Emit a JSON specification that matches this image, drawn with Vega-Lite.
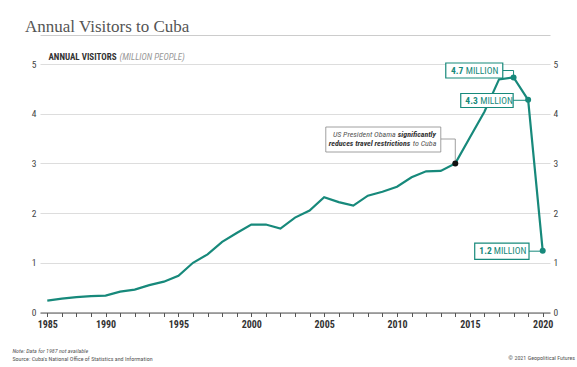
{
  "$schema": "https://vega.github.io/schema/vega-lite/v6.json",
  "width": 510,
  "height": 248.5,
  "autosize": {"type": "none"},
  "padding": {"left": 40, "top": 64, "right": 27, "bottom": 54.5},
  "background": "white",
  "config": {
    "view": {"stroke": null},
    "font": "Liberation Sans Narrow, Roboto Condensed, Roboto"
  },
  "title": {
    "text": "Annual Visitors to Cuba",
    "anchor": "start",
    "frame": "group",
    "font": "Liberation Serif",
    "fontSize": 17,
    "fontWeight": "normal",
    "color": "#555555",
    "dx": -15,
    "offset": -14,
    "baseline": "alphabetic"
  },
  "data": {
    "values": [
      {"year": 1985, "visitors": 0.24},
      {"year": 1986, "visitors": 0.28},
      {"year": 1988, "visitors": 0.31},
      {"year": 1989, "visitors": 0.33},
      {"year": 1990, "visitors": 0.34},
      {"year": 1991, "visitors": 0.42},
      {"year": 1992, "visitors": 0.46},
      {"year": 1993, "visitors": 0.55},
      {"year": 1994, "visitors": 0.62},
      {"year": 1995, "visitors": 0.74},
      {"year": 1996, "visitors": 1.0},
      {"year": 1997, "visitors": 1.17},
      {"year": 1998, "visitors": 1.42},
      {"year": 1999, "visitors": 1.6},
      {"year": 2000, "visitors": 1.77},
      {"year": 2001, "visitors": 1.77},
      {"year": 2002, "visitors": 1.69},
      {"year": 2003, "visitors": 1.91},
      {"year": 2004, "visitors": 2.05},
      {"year": 2005, "visitors": 2.32},
      {"year": 2006, "visitors": 2.22},
      {"year": 2007, "visitors": 2.15},
      {"year": 2008, "visitors": 2.35},
      {"year": 2009, "visitors": 2.43},
      {"year": 2010, "visitors": 2.53},
      {"year": 2011, "visitors": 2.72},
      {"year": 2012, "visitors": 2.84},
      {"year": 2013, "visitors": 2.85},
      {"year": 2014, "visitors": 3.0},
      {"year": 2015, "visitors": 3.52},
      {"year": 2016, "visitors": 4.04},
      {"year": 2017, "visitors": 4.69},
      {"year": 2018, "visitors": 4.73},
      {"year": 2019, "visitors": 4.28},
      {"year": 2020, "visitors": 1.24}
    ]
  },
  "resolve": {"axis": {"x": "independent", "y": "independent"}},
  "layer": [
    {
      "mark": {"type": "line", "color": "#17897b", "strokeWidth": 2.2},
      "encoding": {
        "x": {
          "field": "year", "type": "ordinal",
          "scale": {"type": "point", "padding": 0.5},
          "axis": {
            "orient": "bottom",
            "labelAngle": 0,
            "labelExpr": "datum.value % 5 === 0 ? datum.label : ''",
            "labelFontWeight": "bold",
            "labelFontSize": 10,
            "labelColor": "#333333",
            "labelPadding": 3,
            "tickColor": "#555555",
            "tickSize": 4,
            "domainColor": "#555555",
            "grid": false,
            "title": "Source: Cuba's National Office of Statistics and Information",
            "titleX": -28,
            "titleY": 47.5,
            "titleAngle": 0,
            "titleAlign": "left",
            "titleAnchor": null,
            "titleBaseline": "alphabetic",
            "titleFontSize": 6,
            "titleFontWeight": "normal",
            "titleColor": "#555555"
          }
        },
        "y": {
          "field": "visitors", "type": "quantitative",
          "scale": {"domain": [0, 5], "nice": false},
          "axis": {
            "orient": "left",
            "values": [0, 1, 2, 3, 4, 5],
            "labelFontSize": 9.5,
            "labelColor": "#444444",
            "labelPadding": 4,
            "ticks": false,
            "domain": false,
            "grid": true,
            "gridColor": "#dddddd",
            "gridWidth": 1,
            "title": "ANNUAL VISITORS",
            "titleX": 8,
            "titleY": -5,
            "titleAngle": 0,
            "titleAlign": "left",
            "titleAnchor": null,
            "titleBaseline": "alphabetic",
            "titleFontSize": 9,
            "titleFontWeight": "bold",
            "titleColor": "#333333"
          }
        }
      }
    },
    {
      "transform": [{"filter": "datum.year === 2018"}],
      "mark": {"type": "rule", "color": "#17897b", "strokeWidth": 1, "xOffset": -10.8, "x2Offset": 0, "yOffset": -6.9},
      "encoding": {
        "x": {"field": "year", "type": "ordinal", "axis": null},
        "x2": {"field": "year"},
        "y": {"field": "visitors", "type": "quantitative", "axis": null}
      }
    },
    {
      "transform": [{"filter": "datum.year === 2018"}],
      "mark": {"type": "rule", "color": "#17897b", "strokeWidth": 1, "yOffset": -6.9, "y2Offset": 0},
      "encoding": {
        "x": {"field": "year", "type": "ordinal", "axis": null},
        "y": {"field": "visitors", "type": "quantitative", "axis": null},
        "y2": {"field": "visitors"}
      }
    },
    {
      "transform": [{"filter": "datum.year === 2018"}],
      "mark": {"type": "rect", "fill": "white", "stroke": "#17897b", "strokeWidth": 1.2, "xOffset": -67.8, "x2Offset": -10.8, "yOffset": -14.4, "y2Offset": 0.6},
      "encoding": {
        "x": {"field": "year", "type": "ordinal", "axis": null},
        "x2": {"field": "year"},
        "y": {"field": "visitors", "type": "quantitative", "axis": null},
        "y2": {"field": "visitors"}
      }
    },
    {
      "transform": [{"filter": "datum.year === 2018"}],
      "mark": {"type": "text", "text": "4.7", "align": "right", "baseline": "alphabetic", "dx": -50.3, "dy": -3.4, "fontSize": 9.5, "fontWeight": "bold", "color": "#17897b"},
      "encoding": {
        "x": {"field": "year", "type": "ordinal", "axis": null},
        "y": {"field": "visitors", "type": "quantitative", "axis": null}
      }
    },
    {
      "transform": [{"filter": "datum.year === 2018"}],
      "mark": {"type": "text", "text": "MILLION", "align": "left", "baseline": "alphabetic", "dx": -47.8, "dy": -3.4, "fontSize": 9.5, "color": "#17897b"},
      "encoding": {
        "x": {"field": "year", "type": "ordinal", "axis": null},
        "y": {"field": "visitors", "type": "quantitative", "axis": null}
      }
    },
    {
      "transform": [{"filter": "datum.year === 2019"}],
      "mark": {"type": "rule", "color": "#17897b", "strokeWidth": 1, "xOffset": -15, "x2Offset": 0, "yOffset": 0.5},
      "encoding": {
        "x": {"field": "year", "type": "ordinal", "axis": null},
        "x2": {"field": "year"},
        "y": {"field": "visitors", "type": "quantitative", "axis": null}
      }
    },
    {
      "transform": [{"filter": "datum.year === 2019"}],
      "mark": {"type": "rect", "fill": "white", "stroke": "#17897b", "strokeWidth": 1.2, "xOffset": -67.4, "x2Offset": -15, "yOffset": -6.3, "y2Offset": 7.7},
      "encoding": {
        "x": {"field": "year", "type": "ordinal", "axis": null},
        "x2": {"field": "year"},
        "y": {"field": "visitors", "type": "quantitative", "axis": null},
        "y2": {"field": "visitors"}
      }
    },
    {
      "transform": [{"filter": "datum.year === 2019"}],
      "mark": {"type": "text", "text": "4.3", "align": "right", "baseline": "alphabetic", "dx": -50.4, "dy": 4.2, "fontSize": 9.5, "fontWeight": "bold", "color": "#17897b"},
      "encoding": {
        "x": {"field": "year", "type": "ordinal", "axis": null},
        "y": {"field": "visitors", "type": "quantitative", "axis": null}
      }
    },
    {
      "transform": [{"filter": "datum.year === 2019"}],
      "mark": {"type": "text", "text": "MILLION", "align": "left", "baseline": "alphabetic", "dx": -47.9, "dy": 4.2, "fontSize": 9.5, "color": "#17897b"},
      "encoding": {
        "x": {"field": "year", "type": "ordinal", "axis": null},
        "y": {"field": "visitors", "type": "quantitative", "axis": null}
      }
    },
    {
      "transform": [{"filter": "datum.year === 2020"}],
      "mark": {"type": "rule", "color": "#17897b", "strokeWidth": 1, "xOffset": -13.7, "x2Offset": 0, "yOffset": 0.3},
      "encoding": {
        "x": {"field": "year", "type": "ordinal", "axis": null},
        "x2": {"field": "year"},
        "y": {"field": "visitors", "type": "quantitative", "axis": null}
      }
    },
    {
      "transform": [{"filter": "datum.year === 2020"}],
      "mark": {"type": "rect", "fill": "white", "stroke": "#17897b", "strokeWidth": 1.2, "xOffset": -68, "x2Offset": -13.7, "yOffset": -7.8, "y2Offset": 8.5},
      "encoding": {
        "x": {"field": "year", "type": "ordinal", "axis": null},
        "x2": {"field": "year"},
        "y": {"field": "visitors", "type": "quantitative", "axis": null},
        "y2": {"field": "visitors"}
      }
    },
    {
      "transform": [{"filter": "datum.year === 2020"}],
      "mark": {"type": "text", "text": "1.2", "align": "right", "baseline": "alphabetic", "dx": -51, "dy": 3.6, "fontSize": 9.5, "fontWeight": "bold", "color": "#17897b"},
      "encoding": {
        "x": {"field": "year", "type": "ordinal", "axis": null},
        "y": {"field": "visitors", "type": "quantitative", "axis": null}
      }
    },
    {
      "transform": [{"filter": "datum.year === 2020"}],
      "mark": {"type": "text", "text": "MILLION", "align": "left", "baseline": "alphabetic", "dx": -49, "dy": 3.6, "fontSize": 9.5, "color": "#17897b"},
      "encoding": {
        "x": {"field": "year", "type": "ordinal", "axis": null},
        "y": {"field": "visitors", "type": "quantitative", "axis": null}
      }
    },
    {
      "transform": [{"filter": "datum.year === 2014"}],
      "mark": {"type": "rule", "color": "#888888", "strokeWidth": 0.8, "xOffset": -14.5, "x2Offset": 0, "yOffset": -24.4},
      "encoding": {
        "x": {"field": "year", "type": "ordinal", "axis": null},
        "x2": {"field": "year"},
        "y": {"field": "visitors", "type": "quantitative", "axis": null}
      }
    },
    {
      "transform": [{"filter": "datum.year === 2014"}],
      "mark": {"type": "rule", "color": "#888888", "strokeWidth": 0.8, "yOffset": -24.4, "y2Offset": 0},
      "encoding": {
        "x": {"field": "year", "type": "ordinal", "axis": null},
        "y": {"field": "visitors", "type": "quantitative", "axis": null},
        "y2": {"field": "visitors"}
      }
    },
    {
      "transform": [{"filter": "datum.year === 2014"}],
      "mark": {"type": "rect", "fill": "white", "stroke": "#888888", "strokeWidth": 0.8, "xOffset": -129.5, "x2Offset": -14.5, "yOffset": -36.4, "y2Offset": -11.4},
      "encoding": {
        "x": {"field": "year", "type": "ordinal", "axis": null},
        "x2": {"field": "year"},
        "y": {"field": "visitors", "type": "quantitative", "axis": null},
        "y2": {"field": "visitors"}
      }
    },
    {
      "transform": [{"filter": "datum.year === 2014"}],
      "mark": {"type": "text", "text": "US President Obama", "align": "right", "baseline": "alphabetic", "dx": -59.5, "dy": -26.7, "fontSize": 8, "fontStyle": "italic", "color": "#555555"},
      "encoding": {
        "x": {"field": "year", "type": "ordinal", "axis": null},
        "y": {"field": "visitors", "type": "quantitative", "axis": null}
      }
    },
    {
      "transform": [{"filter": "datum.year === 2014"}],
      "mark": {"type": "text", "text": "significantly", "align": "left", "baseline": "alphabetic", "dx": -57.5, "dy": -26.7, "fontSize": 8, "fontStyle": "italic", "fontWeight": "bold", "color": "#333333"},
      "encoding": {
        "x": {"field": "year", "type": "ordinal", "axis": null},
        "y": {"field": "visitors", "type": "quantitative", "axis": null}
      }
    },
    {
      "transform": [{"filter": "datum.year === 2014"}],
      "mark": {"type": "text", "text": "reduces travel restrictions", "align": "right", "baseline": "alphabetic", "dx": -45, "dy": -17.4, "fontSize": 8, "fontStyle": "italic", "fontWeight": "bold", "color": "#333333"},
      "encoding": {
        "x": {"field": "year", "type": "ordinal", "axis": null},
        "y": {"field": "visitors", "type": "quantitative", "axis": null}
      }
    },
    {
      "transform": [{"filter": "datum.year === 2014"}],
      "mark": {"type": "text", "text": "to Cuba", "align": "left", "baseline": "alphabetic", "dx": -42.5, "dy": -17.4, "fontSize": 8, "fontStyle": "italic", "color": "#555555"},
      "encoding": {
        "x": {"field": "year", "type": "ordinal", "axis": null},
        "y": {"field": "visitors", "type": "quantitative", "axis": null}
      }
    },
    {
      "transform": [{"filter": "datum.year === 2020"}],
      "mark": {"type": "text", "text": "© 2021 Geopolitical Futures", "align": "right", "baseline": "alphabetic", "dx": 32.3, "dy": 47.5, "fontSize": 6, "color": "#555555"},
      "encoding": {
        "x": {"field": "year", "type": "ordinal", "axis": null},
        "y": {"datum": 0, "type": "quantitative", "axis": null}
      }
    },
    {
      "transform": [{"filter": "datum.year === 2014"}],
      "mark": {"type": "circle", "color": "#111111", "size": 36, "opacity": 1},
      "encoding": {
        "x": {"field": "year", "type": "ordinal", "axis": null},
        "y": {"field": "visitors", "type": "quantitative", "axis": null}
      }
    },
    {
      "transform": [{"filter": "datum.year >= 2018"}],
      "mark": {"type": "circle", "color": "#17897b", "size": 36, "opacity": 1},
      "encoding": {
        "x": {
          "field": "year", "type": "ordinal",
          "axis": {
            "orient": "top",
            "offset": 29,
            "labels": false,
            "ticks": false,
            "grid": false,
            "domainColor": "#cccccc",
            "domainWidth": 1,
            "title": "Note: Data for 1987 not available",
            "titleX": -28,
            "titleY": 317,
            "titleAngle": 0,
            "titleAlign": "left",
            "titleAnchor": null,
            "titleBaseline": "alphabetic",
            "titleFontSize": 6,
            "titleFontWeight": "normal",
            "titleFontStyle": "italic",
            "titleColor": "#555555"
          }
        },
        "y": {
          "field": "visitors", "type": "quantitative",
          "axis": {
            "orient": "right",
            "values": [0, 1, 2, 3, 4, 5],
            "labelFontSize": 9.5,
            "labelColor": "#444444",
            "labelPadding": 3,
            "ticks": false,
            "domain": false,
            "grid": false,
            "title": "(MILLION PEOPLE)",
            "titleX": -431,
            "titleY": -5,
            "titleAngle": 0,
            "titleAlign": "left",
            "titleAnchor": null,
            "titleBaseline": "alphabetic",
            "titleFontSize": 9,
            "titleFontWeight": "normal",
            "titleFontStyle": "italic",
            "titleColor": "#999999"
          }
        }
      }
    }
  ]
}
